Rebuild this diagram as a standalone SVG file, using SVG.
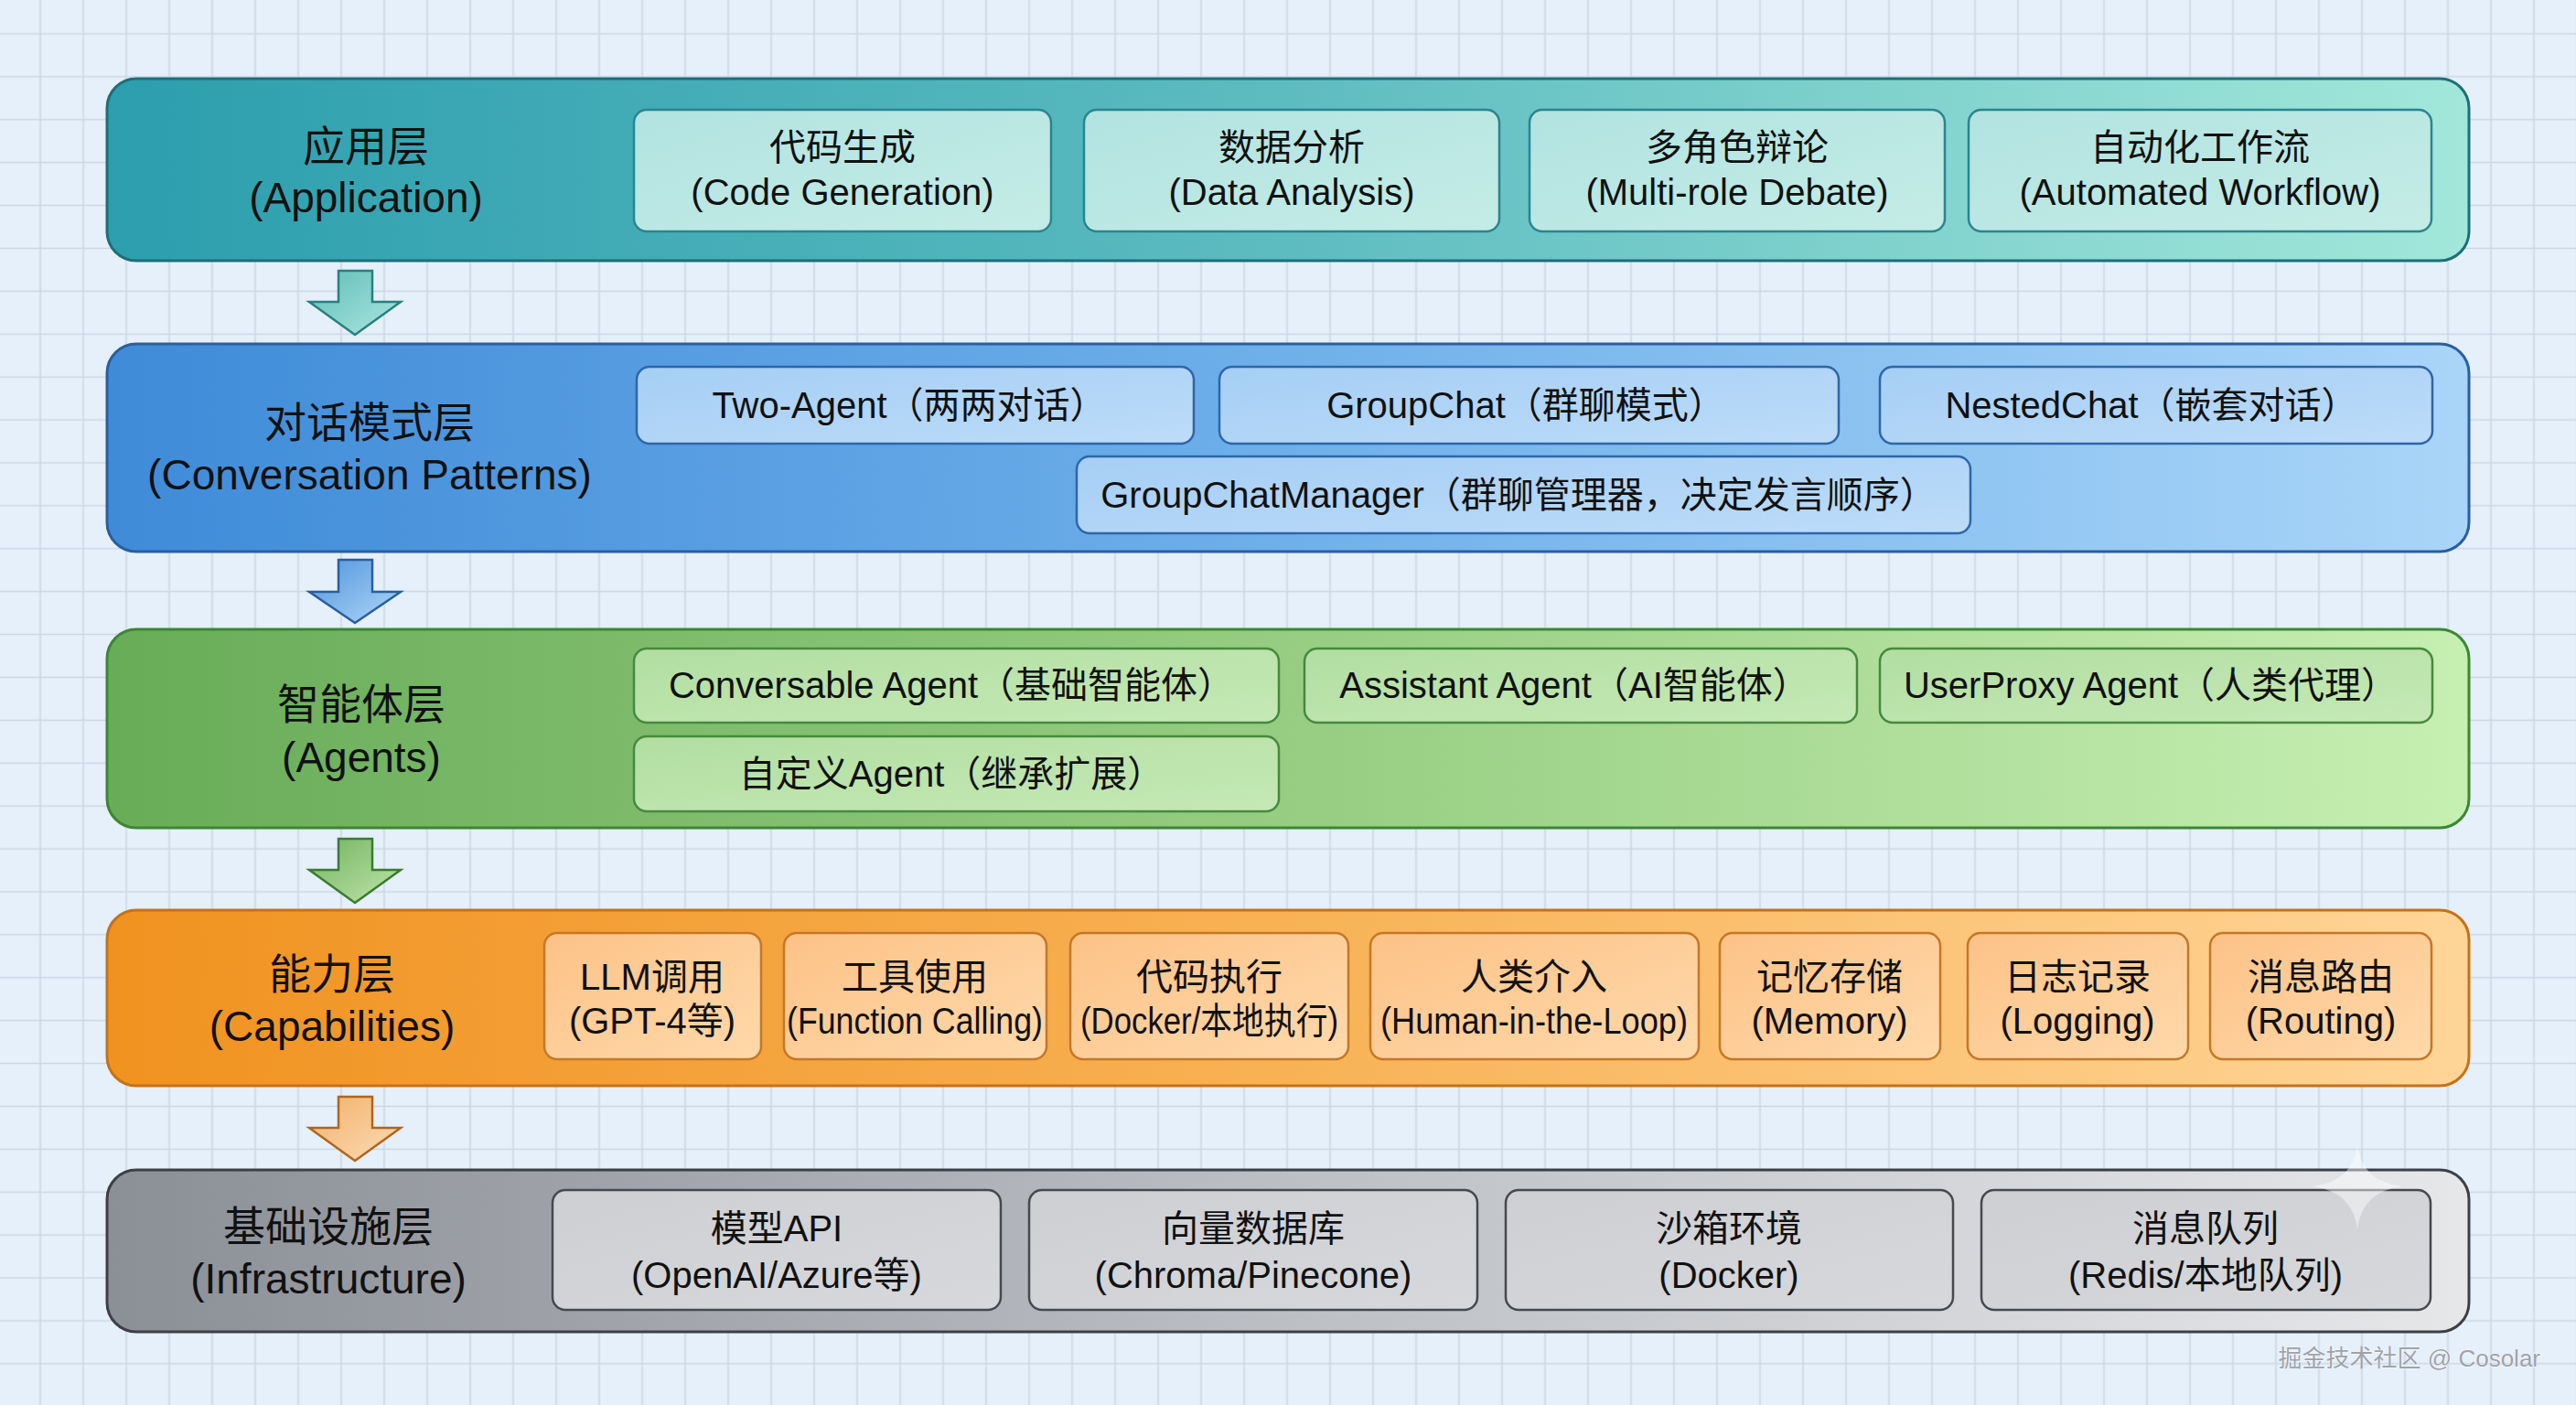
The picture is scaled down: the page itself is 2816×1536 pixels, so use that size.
<svg xmlns="http://www.w3.org/2000/svg" width="2816" height="1536" viewBox="0 0 2816 1536">
<defs>
<pattern id="grid" patternUnits="userSpaceOnUse" x="20.5" y="13.5" width="47" height="46.9">
<path d="M23.5 0 V46.9 M0 23.45 H47" stroke="#cbd6e2" stroke-width="1.6" fill="none"/>
</pattern>
<linearGradient id="g1" x1="0" y1="0" x2="1" y2="0"><stop offset="0" stop-color="#2c9eae"/><stop offset="0.5" stop-color="#5dbcc0"/><stop offset="1" stop-color="#a2e7da"/></linearGradient>
<linearGradient id="g2" x1="0" y1="0" x2="1" y2="0"><stop offset="0" stop-color="#3f8bd8"/><stop offset="0.5" stop-color="#6fb0ea"/><stop offset="1" stop-color="#a9d5f8"/></linearGradient>
<linearGradient id="g3" x1="0" y1="0" x2="1" y2="0"><stop offset="0" stop-color="#68ac58"/><stop offset="0.5" stop-color="#96cd82"/><stop offset="1" stop-color="#c6efb2"/></linearGradient>
<linearGradient id="g4" x1="0" y1="0" x2="1" y2="0"><stop offset="0" stop-color="#f09220"/><stop offset="0.5" stop-color="#f8b255"/><stop offset="1" stop-color="#ffd597"/></linearGradient>
<linearGradient id="g5" x1="0" y1="0" x2="1" y2="0"><stop offset="0" stop-color="#8b8f96"/><stop offset="0.5" stop-color="#bcbfc4"/><stop offset="1" stop-color="#e6e7e9"/></linearGradient>
<linearGradient id="i1" x1="0" y1="0" x2="1" y2="1"><stop offset="0" stop-color="#b2e3e1"/><stop offset="1" stop-color="#c4ece6"/></linearGradient>
<linearGradient id="i2" x1="0" y1="0" x2="1" y2="1"><stop offset="0" stop-color="#a6cef4"/><stop offset="1" stop-color="#bcdcf9"/></linearGradient>
<linearGradient id="i3" x1="0" y1="0" x2="1" y2="1"><stop offset="0" stop-color="#b2dea2"/><stop offset="1" stop-color="#c5e9b5"/></linearGradient>
<linearGradient id="i4" x1="0" y1="0" x2="1" y2="1"><stop offset="0" stop-color="#fcc287"/><stop offset="1" stop-color="#ffd9aa"/></linearGradient>
<linearGradient id="i5" x1="0" y1="0" x2="1" y2="1"><stop offset="0" stop-color="#cdcfd3"/><stop offset="1" stop-color="#d6d8db"/></linearGradient>
<linearGradient id="a1" x1="0" y1="0" x2="1" y2="1"><stop offset="0" stop-color="#5fbdb9"/><stop offset="1" stop-color="#aee6df"/></linearGradient>
<linearGradient id="a2" x1="0" y1="0" x2="1" y2="1"><stop offset="0" stop-color="#4f95dc"/><stop offset="1" stop-color="#b0d6f8"/></linearGradient>
<linearGradient id="a3" x1="0" y1="0" x2="1" y2="1"><stop offset="0" stop-color="#72b262"/><stop offset="1" stop-color="#bfe6a8"/></linearGradient>
<linearGradient id="a4" x1="0" y1="0" x2="1" y2="1"><stop offset="0" stop-color="#f2b06a"/><stop offset="1" stop-color="#fcdcb5"/></linearGradient>
</defs>
<style>
text{font-family:"Liberation Sans","Noto Sans CJK SC",sans-serif;fill:#111;text-anchor:middle;dominant-baseline:central}
.title{font-size:46px}
.item{font-size:40px}
.layer{stroke-width:3}
.box{stroke-width:2.5}
.l1{fill:url(#g1);stroke:#1d6f79}
.l2{fill:url(#g2);stroke:#2a5e9e}
.l3{fill:url(#g3);stroke:#3c8636}
.l4{fill:url(#g4);stroke:#c4721a}
.l5{fill:url(#g5);stroke:#3c4046}
.b1{fill:url(#i1);stroke:#2a8590}
.b2{fill:url(#i2);stroke:#2f66a8}
.b3{fill:url(#i3);stroke:#468a3c}
.b4{fill:url(#i4);stroke:#c47828}
.b5{fill:url(#i5);stroke:#46494e}
.arrow{stroke-width:2.5;stroke-linejoin:miter}
.wm{font-size:26px;fill:#9ea3a9;stroke:#ffffff;stroke-width:0.8;paint-order:stroke;text-anchor:end}
</style>
<rect width="2816" height="1536" fill="#e5f0fb"/>
<rect width="2816" height="1536" fill="url(#grid)"/>

<g id="layer-application">
<rect class="layer l1" x="117" y="86" width="2582" height="199" rx="32"/>
<text class="title"><tspan x="400" y="160">应用层</tspan><tspan x="400" y="216">(Application)</tspan></text>
</g>
<g id="app-code-generation">
<rect class="box b1" x="693" y="120" width="456" height="133" rx="14"/>
<text class="item"><tspan x="921" y="161">代码生成</tspan><tspan x="921" y="210">(Code Generation)</tspan></text>
</g>
<g id="app-data-analysis">
<rect class="box b1" x="1185" y="120" width="454" height="133" rx="14"/>
<text class="item"><tspan x="1412" y="161">数据分析</tspan><tspan x="1412" y="210">(Data Analysis)</tspan></text>
</g>
<g id="app-multi-role-debate">
<rect class="box b1" x="1672" y="120" width="454" height="133" rx="14"/>
<text class="item"><tspan x="1899" y="161">多角色辩论</tspan><tspan x="1899" y="210">(Multi-role Debate)</tspan></text>
</g>
<g id="app-automated-workflow">
<rect class="box b1" x="2152" y="120" width="506" height="133" rx="14"/>
<text class="item"><tspan x="2405" y="161">自动化工作流</tspan><tspan x="2405" y="210">(Automated Workflow)</tspan></text>
</g>

<g id="layer-conversation">
<rect class="layer l2" x="117" y="376" width="2582" height="227" rx="32"/>
<text class="title"><tspan x="404" y="462">对话模式层</tspan><tspan x="404" y="519">(Conversation Patterns)</tspan></text>
</g>
<g id="conv-two-agent">
<rect class="box b2" x="696" y="401" width="609" height="84" rx="14"/>
<text class="item" x="994" y="443">Two-Agent（两两对话）</text>
</g>
<g id="conv-groupchat">
<rect class="box b2" x="1333" y="401" width="677" height="84" rx="14"/>
<text class="item" x="1668" y="443">GroupChat（群聊模式）</text>
</g>
<g id="conv-nestedchat">
<rect class="box b2" x="2055" y="401" width="604" height="84" rx="14"/>
<text class="item" x="2352" y="443">NestedChat（嵌套对话）</text>
</g>
<g id="conv-groupchatmanager">
<rect class="box b2" x="1177" y="499" width="977" height="84" rx="14"/>
<text class="item" x="1660" y="541">GroupChatManager（群聊管理器，决定发言顺序）</text>
</g>

<g id="layer-agents">
<rect class="layer l3" x="117" y="688" width="2582" height="217" rx="32"/>
<text class="title"><tspan x="395" y="770">智能体层</tspan><tspan x="395" y="828">(Agents)</tspan></text>
</g>
<g id="agent-conversable">
<rect class="box b3" x="693" y="709" width="705" height="81" rx="14"/>
<text class="item" x="1040" y="749">Conversable Agent（基础智能体）</text>
</g>
<g id="agent-assistant">
<rect class="box b3" x="1426" y="709" width="604" height="81" rx="14"/>
<text class="item" x="1721" y="749">Assistant Agent（AI智能体）</text>
</g>
<g id="agent-userproxy">
<rect class="box b3" x="2055" y="709" width="604" height="81" rx="14"/>
<text class="item" x="2351" y="749">UserProxy Agent（人类代理）</text>
</g>
<g id="agent-custom">
<rect class="box b3" x="693" y="805" width="705" height="82" rx="14"/>
<text class="item" x="1040" y="846">自定义Agent（继承扩展）</text>
</g>

<g id="layer-capabilities">
<rect class="layer l4" x="117" y="995" width="2582" height="192" rx="32"/>
<text class="title"><tspan x="363" y="1065">能力层</tspan><tspan x="363" y="1122">(Capabilities)</tspan></text>
</g>
<g id="cap-llm">
<rect class="box b4" x="595" y="1020" width="237" height="138" rx="14"/>
<text class="item"><tspan x="713" y="1068">LLM调用</tspan><tspan x="713" y="1116">(GPT-4等)</tspan></text>
</g>
<g id="cap-tools">
<rect class="box b4" x="857" y="1020" width="287" height="138" rx="14"/>
<text class="item"><tspan x="1000" y="1068">工具使用</tspan><tspan x="1000" y="1116" textLength="280" lengthAdjust="spacingAndGlyphs">(Function Calling)</tspan></text>
</g>
<g id="cap-code-exec">
<rect class="box b4" x="1170" y="1020" width="304" height="138" rx="14"/>
<text class="item"><tspan x="1322" y="1068">代码执行</tspan><tspan x="1322" y="1116" textLength="282" lengthAdjust="spacingAndGlyphs">(Docker/本地执行)</tspan></text>
</g>
<g id="cap-human">
<rect class="box b4" x="1498" y="1020" width="359" height="138" rx="14"/>
<text class="item"><tspan x="1677" y="1068">人类介入</tspan><tspan x="1677" y="1116" textLength="336" lengthAdjust="spacingAndGlyphs">(Human-in-the-Loop)</tspan></text>
</g>
<g id="cap-memory">
<rect class="box b4" x="1880" y="1020" width="241" height="138" rx="14"/>
<text class="item"><tspan x="2000" y="1068">记忆存储</tspan><tspan x="2000" y="1116">(Memory)</tspan></text>
</g>
<g id="cap-logging">
<rect class="box b4" x="2151" y="1020" width="241" height="138" rx="14"/>
<text class="item"><tspan x="2271" y="1068">日志记录</tspan><tspan x="2271" y="1116">(Logging)</tspan></text>
</g>
<g id="cap-routing">
<rect class="box b4" x="2416" y="1020" width="242" height="138" rx="14"/>
<text class="item"><tspan x="2537" y="1068">消息路由</tspan><tspan x="2537" y="1116">(Routing)</tspan></text>
</g>

<g id="layer-infrastructure">
<rect class="layer l5" x="117" y="1279" width="2582" height="177" rx="32"/>
<text class="title"><tspan x="359" y="1341">基础设施层</tspan><tspan x="359" y="1398">(Infrastructure)</tspan></text>
</g>
<g id="infra-model-api">
<rect class="box b5" x="604" y="1301" width="490" height="131" rx="14"/>
<text class="item"><tspan x="849" y="1343">模型API</tspan><tspan x="849" y="1394">(OpenAI/Azure等)</tspan></text>
</g>
<g id="infra-vector-db">
<rect class="box b5" x="1125" y="1301" width="490" height="131" rx="14"/>
<text class="item"><tspan x="1370" y="1343">向量数据库</tspan><tspan x="1370" y="1394">(Chroma/Pinecone)</tspan></text>
</g>
<g id="infra-sandbox">
<rect class="box b5" x="1646" y="1301" width="489" height="131" rx="14"/>
<text class="item"><tspan x="1890" y="1343">沙箱环境</tspan><tspan x="1890" y="1394">(Docker)</tspan></text>
</g>
<g id="infra-message-queue">
<rect class="box b5" x="2166" y="1301" width="491" height="131" rx="14"/>
<text class="item"><tspan x="2411" y="1343">消息队列</tspan><tspan x="2411" y="1394">(Redis/本地队列)</tspan></text>
</g>

<g id="connectors">
<path class="arrow" fill="url(#a1)" stroke="#2a7f80" d="M370 296 H407 V330 H438 L388 366 L338 330 H370 Z"/>
<path class="arrow" fill="url(#a2)" stroke="#2a5e9e" d="M370 612 H407 V647 H438 L388 681 L338 647 H370 Z"/>
<path class="arrow" fill="url(#a3)" stroke="#3a7a32" d="M370 917 H407 V951 H438 L388 987 L338 951 H370 Z"/>
<path class="arrow" fill="url(#a4)" stroke="#b0651c" d="M370 1199 H407 V1233 H438 L388 1269 L338 1233 H370 Z"/>
</g>

<path d="M2577 1252 Q2582 1292 2627 1297 Q2582 1302 2577 1344 Q2572 1302 2527 1297 Q2572 1292 2577 1252 Z" fill="#ffffff" opacity="0.45"/>
<text class="wm" x="2777" y="1485">掘金技术社区 @ Cosolar</text>
</svg>
